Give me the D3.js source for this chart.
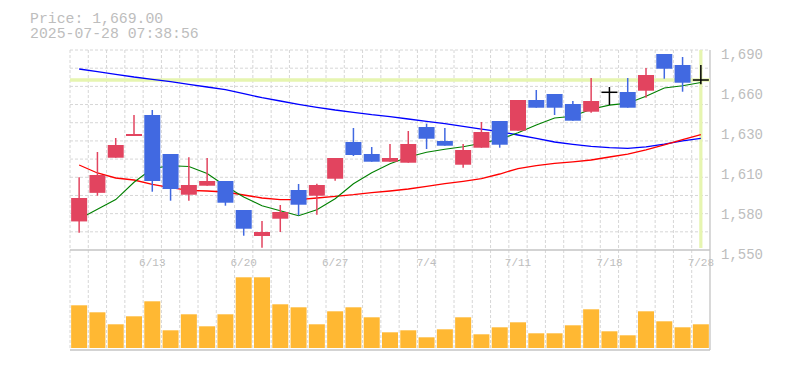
<!DOCTYPE html>
<html>
<head>
<meta charset="utf-8">
<script src="https://cdn.jsdelivr.net/npm/d3@7"></script>
<style>
  body { margin: 0; background: #fff; }
  svg text { font-family: "Liberation Mono", "DejaVu Sans Mono", monospace; fill: #bdbdbd; }
</style>
</head>
<body>
<svg id="chart" width="785" height="370"></svg>
<script>
var dates = ['6/9','6/10','6/11','6/12','6/13','6/16','6/17','6/18','6/19','6/20',
  '6/23','6/24','6/25','6/26','6/27','6/30','7/1','7/2','7/3','7/4',
  '7/7','7/8','7/9','7/10','7/11','7/14','7/15','7/16','7/17','7/18',
  '7/22','7/23','7/24','7/25','7/28'];

var opens  = [1570, 1590, 1614.6, 1629.8, 1644.5, 1617.2, 1588.7, 1595, 1598.3, 1578,
  1559.8, 1571.9, 1592, 1588, 1599.9, 1625.6, 1617.2, 1611.8, 1611.1, 1636.1,
  1626.3, 1609.7, 1621.6, 1640.3, 1633.5, 1655, 1659.2, 1652.2, 1646.8, 1660.4,
  1660.6, 1661.5, 1687.2, 1679.5, 1669];
var highs  = [1601, 1618.6, 1628.4, 1644.5, 1648, 1617.2, 1614.9, 1614.4, 1598.3, 1578,
  1570.3, 1581.5, 1596.2, 1596.4, 1614.4, 1635.4, 1622.1, 1624.2, 1633.3, 1638.4,
  1635.4, 1624.2, 1639.6, 1640.3, 1655, 1662, 1659.2, 1654.3, 1670.4, 1664.1,
  1670.4, 1677.4, 1687.2, 1685.1, 1679.5];
var lows   = [1562, 1588, 1614.6, 1629.8, 1590.8, 1584.5, 1584.5, 1595, 1581, 1560,
  1551.6, 1562.6, 1574.3, 1574.7, 1598.5, 1615.8, 1611.8, 1611.8, 1611.1, 1620.7,
  1623, 1607.6, 1621.6, 1621.6, 1633.5, 1649.6, 1644.5, 1640.5, 1646.1, 1651.5,
  1649.6, 1656.6, 1669.9, 1660.8, 1666];
var closes = [1586.4, 1602.5, 1623.5, 1631.2, 1598.3, 1592.7, 1595.5, 1598.3, 1583.1, 1564.9,
  1562.6, 1576.6, 1581.7, 1595.5, 1614.4, 1616.5, 1611.8, 1614.4, 1624.2, 1627.9,
  1623, 1620, 1632.6, 1623.7, 1655, 1649.6, 1649.6, 1640.5, 1654.3, 1660.4,
  1649.6, 1672.5, 1676.9, 1667.1, 1669];

var ma5  = [1571.7, 1578.5, 1585.3, 1597.4, 1607, 1609, 1608.4, 1603.5, 1594.8, 1587.1,
  1581, 1577.5, 1574, 1578.2, 1585.9, 1596.4, 1604.1, 1610.4, 1615.1, 1618.4,
  1620.5, 1622.3, 1624.7, 1627.5, 1632, 1637.5, 1642.4, 1643.6, 1648.5, 1651.4,
  1652.8, 1657.6, 1663.4, 1665, 1667.2];
var ma25 = [1609.5, 1603.9, 1600.4, 1599, 1596, 1593.6, 1591.8, 1591.3, 1590.6, 1588.5,
  1586.4, 1585.2, 1585.2, 1586.4, 1587.6, 1588.7, 1590.1, 1591.3, 1592.7, 1594.6,
  1596.4, 1598.1, 1600, 1603.2, 1607, 1609, 1610.6, 1611.7, 1613, 1615.1,
  1617.1, 1620.1, 1623.6, 1627.3, 1630.8];
var ma75 = [1676.7, 1674.8, 1673, 1671.1, 1669.5, 1667.8, 1666, 1664.1, 1662.2, 1659.4,
  1656.6, 1654.3, 1652, 1649.9, 1648, 1646.4, 1644.7, 1643.3, 1641.7, 1640.1,
  1638.4, 1636.6, 1634.6, 1632.8, 1630.5, 1628.2, 1625.6, 1624, 1622.6, 1621.7,
  1621.2, 1622.2, 1624.1, 1626.4, 1628.2];

var volumes = [427, 357, 237, 317, 467, 177, 337, 217, 337, 707,
  707, 437, 407, 237, 367, 407, 307, 157, 177, 107,
  187, 307, 137, 207, 257, 147, 147, 227, 387, 167,
  127, 367, 267, 207, 237];

var yTickValues = [1550, 1578, 1606, 1634, 1662, 1690];
var yTickLabels = ['1,550', '1,580', '1,610', '1,630', '1,660', '1,690'];

var priceLabel = 'Price: 1,669.00';
var timeLabel = '2025-07-28 07:38:56';

var svg = d3.select("#chart");
var left = 70, right = 710, plotTop = 50, priceBottom = 250, volBottom = 350;
var gridColor = "#d6d6d6", borderColor = "#c4c4c4";

var x = d3.scaleBand().domain(d3.range(dates.length)).range([left, right]);
var y = d3.scaleLinear().domain([1550, 1690]).range([priceBottom, plotTop]);
var yv = d3.scaleLinear().domain([0, 1000]).range([volBottom - 2, volBottom - 102]);
var bw = x.bandwidth();
var bodyW = 16;
var cx = i => x(i) + bw / 2;

svg.append("rect").attr("width", 785).attr("height", 370).attr("fill", "#fff");

// grid
svg.append("g").selectAll("line")
  .data(d3.range(dates.length))
  .enter().append("line")
  .attr("x1", d => x(d)).attr("x2", d => x(d))
  .attr("y1", plotTop).attr("y2", volBottom)
  .attr("stroke", gridColor).attr("stroke-dasharray", "3,2");

svg.append("g").selectAll("line")
  .data(d3.range(11))
  .enter().append("line")
  .attr("x1", left).attr("x2", right)
  .attr("y1", d => plotTop + d * (priceBottom - plotTop) / 11)
  .attr("y2", d => plotTop + d * (priceBottom - plotTop) / 11)
  .attr("stroke", gridColor).attr("stroke-dasharray", "3,2");

// borders
svg.append("line").attr("x1", left).attr("x2", right).attr("y1", priceBottom).attr("y2", priceBottom)
  .attr("stroke", borderColor).attr("stroke-width", 1.3);
svg.append("line").attr("x1", left).attr("x2", right).attr("y1", volBottom).attr("y2", volBottom)
  .attr("stroke", borderColor).attr("stroke-width", 1.3);
svg.append("line").attr("x1", right).attr("x2", right).attr("y1", plotTop).attr("y2", volBottom)
  .attr("stroke", borderColor).attr("stroke-width", 1.3);

// current price highlight
var last = closes.length - 1;
svg.append("line")
  .attr("x1", left).attr("x2", right)
  .attr("y1", y(closes[last])).attr("y2", y(closes[last]))
  .attr("stroke", "#e6f5b0").attr("stroke-width", 3.5);
svg.append("line")
  .attr("x1", cx(last)).attr("x2", cx(last))
  .attr("y1", plotTop).attr("y2", priceBottom - 2)
  .attr("stroke", "#e6f5b0").attr("stroke-width", 3.2);

// moving averages
var line = d3.line().x((d, i) => cx(i)).y(d => y(d));
[[ma75, "#0000ff", 1.3], [ma25, "#ff0000", 1.3], [ma5, "#008000", 1.1]].forEach(function (m) {
  svg.append("path")
    .datum(m[0])
    .attr("d", line)
    .attr("fill", "none")
    .attr("stroke", m[1])
    .attr("stroke-width", m[2]);
});

// candles
var candles = d3.range(dates.length).map(i => ({ i: i, o: opens[i], h: highs[i], l: lows[i], c: closes[i] }));
var colorOf = d => d.c > d.o ? "#e2445f" : d.c < d.o ? "#4169e1" : "#000";

var cg = svg.append("g").selectAll("g")
  .data(candles)
  .enter().append("g");

cg.append("line")
  .attr("x1", d => cx(d.i)).attr("x2", d => cx(d.i))
  .attr("y1", d => y(d.h)).attr("y2", d => y(d.l))
  .attr("stroke", colorOf).attr("stroke-width", 1.5);

cg.filter(d => d.o !== d.c).append("rect")
  .attr("x", d => cx(d.i) - bodyW / 2)
  .attr("width", bodyW)
  .attr("y", d => y(Math.max(d.o, d.c)))
  .attr("height", d => Math.max(1, y(Math.min(d.o, d.c)) - y(Math.max(d.o, d.c))))
  .attr("fill", colorOf);

cg.filter(d => d.o === d.c).append("line")
  .attr("x1", d => cx(d.i) - bodyW / 2).attr("x2", d => cx(d.i) + bodyW / 2)
  .attr("y1", d => y(d.c)).attr("y2", d => y(d.c))
  .attr("stroke", "#000").attr("stroke-width", 1.5);

// volume
svg.append("g").selectAll("rect")
  .data(volumes)
  .enter().append("rect")
  .attr("x", (d, i) => cx(i) - bodyW / 2)
  .attr("width", bodyW)
  .attr("y", d => yv(d))
  .attr("height", d => yv(0) - yv(d))
  .attr("fill", "#ffb833");

// axes
var yAxis = svg.append("g")
  .attr("transform", `translate(${right},0)`)
  .call(d3.axisRight(y).tickValues(yTickValues).tickFormat((d, i) => yTickLabels[i]).tickSize(0).tickPadding(11));
yAxis.select(".domain").remove();
yAxis.selectAll("text").attr("dy", "0.6em").style("font-size", "14px");

var xTicks = d3.range(last, -1, -5);
var xAxis = svg.append("g")
  .attr("transform", `translate(0,${priceBottom})`)
  .call(d3.axisBottom(x).tickValues(xTicks).tickFormat(i => dates[i]).tickSize(0).tickPadding(8));
xAxis.select(".domain").remove();
xAxis.selectAll("text").style("font-size", "11px");

// header
svg.append("text").attr("x", 30).attr("y", 22.5).style("font-size", "14.8px").text(priceLabel);
svg.append("text").attr("x", 30).attr("y", 37.5).style("font-size", "14.8px").text(timeLabel);
</script>
</body>
</html>
